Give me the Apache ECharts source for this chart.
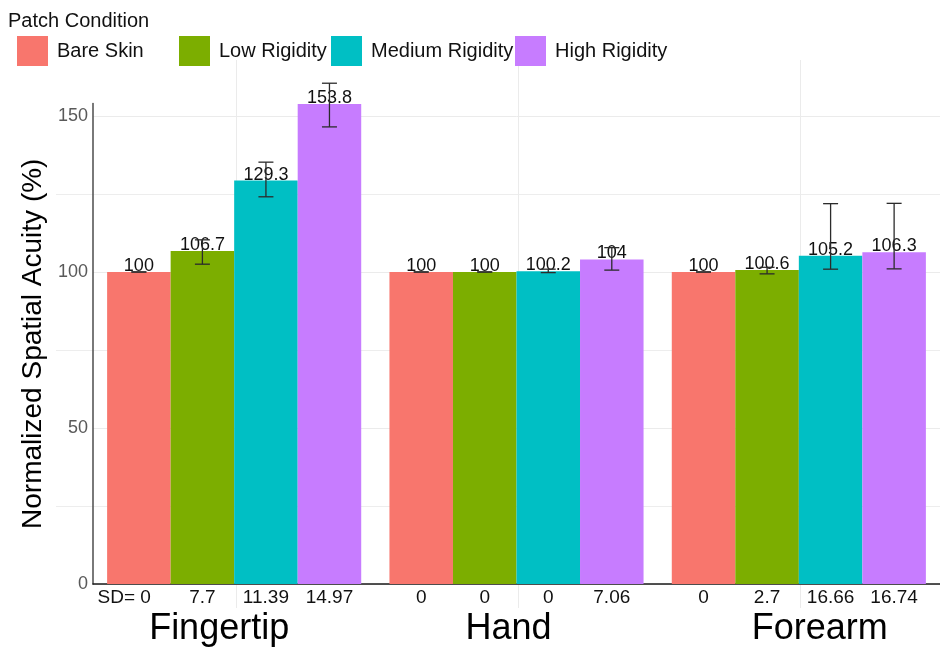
<!DOCTYPE html>
<html>
<head>
<meta charset="utf-8">
<script src="https://cdn.jsdelivr.net/npm/echarts@6/dist/echarts.min.js"></script>
<style>
  html, body { margin: 0; padding: 0; background: #fff; }
  #chart { width: 940px; height: 648px; }
</style>
</head>
<body>
<div id="chart"></div>
<script>
// sites on the x axis
const sites = ["Fingertip", "Hand", "Forearm"];
const conditions = ["Bare Skin", "Low Rigidity", "Medium Rigidity", "High Rigidity"];
const colors = ["#F8766D", "#7CAE00", "#00BFC4", "#C77CFF"];

// normalized acuity (%) per condition, in site order
const bareSkin = [100, 100, 100];
const lowRigidity = [106.7, 100, 100.6];
const mediumRigidity = [129.3, 100.2, 105.2];
const highRigidity = [153.8, 104, 106.3];

// SD printed under each bar
const sdBare = [0, 0, 0];
const sdLow = [7.7, 0, 2.7];
const sdMedium = [11.39, 0, 16.66];
const sdHigh = [14.97, 7.06, 16.74];

// error bar ends as drawn (low, high)
const errBare = [[100, 100], [100, 100], [100, 100]];
const errLow = [[102.5, 110.3], [100, 100], [99.4, 101.5]];
const errMedium = [[124.1, 135.2], [99.8, 100.9], [100.9, 121.9]];
const errHigh = [[146.5, 160.5], [100.6, 107.8], [101.0, 122.0]];

const yTicks = [0, 50, 100, 150];

const values = [bareSkin, lowRigidity, mediumRigidity, highRigidity];
const sds = [sdBare, sdLow, sdMedium, sdHigh];
const errs = [errBare, errLow, errMedium, errHigh];

const FONT = '"Liberation Sans", Arial, Helvetica, sans-serif';

const chart = echarts.init(document.getElementById("chart"));

// error bar + SD text, one item per bar
const errData = [];
errs.forEach(function (list, j) {
  list.forEach(function (e, i) {
    errData.push([i, e[0], e[1], j]);
  });
});

function renderErr(params, api) {
  const i = api.value(0);
  const j = api.value(3);
  const bw = api.size([1, 0])[0];
  const xc = api.coord([i, 0])[0] + (-0.45 + 0.225 * (j + 0.5)) * bw;
  const yLo = api.coord([i, api.value(1)])[1];
  const yHi = api.coord([i, api.value(2)])[1];
  const y0 = api.coord([i, 0])[1];
  const cap = 7.5;
  const ls = { stroke: "#2b2b2b", lineWidth: 1.3 };
  const first = i === 0 && j === 0;
  return {
    type: "group",
    children: [
      { type: "line", shape: { x1: xc, y1: yLo, x2: xc, y2: yHi }, style: ls },
      { type: "line", shape: { x1: xc - cap, y1: yLo, x2: xc + cap, y2: yLo }, style: ls },
      { type: "line", shape: { x1: xc - cap, y1: yHi, x2: xc + cap, y2: yHi }, style: ls },
      {
        type: "text",
        style: {
          text: (first ? "SD= " : "") + sds[j][i],
          x: first ? xc + 12 : xc,
          y: y0 + 14,
          align: first ? "right" : "center",
          verticalAlign: "middle",
          fontSize: 19,
          fontFamily: FONT,
          fill: "#111"
        }
      }
    ]
  };
}

const legendLeft = [12, 174, 326, 510];
// nudges for the site names, as in the original layout
const siteRich = {
  s0: { fontSize: 36, color: "#000", fontFamily: FONT, padding: [0, 30, 0, 0] },
  s1: { fontSize: 36, color: "#000", fontFamily: FONT, padding: [0, 16, 0, 0] },
  s2: { fontSize: 36, color: "#000", fontFamily: FONT, padding: [0, 0, 0, 42] }
};

const option = {
  animation: false,
  textStyle: { fontFamily: FONT },
  title: {
    text: "Patch Condition",
    left: 3,
    top: 6,
    textStyle: { fontSize: 20, fontWeight: "normal", color: "#111", fontFamily: FONT }
  },
  legend: conditions.map(function (name, k) {
    return {
      data: [name],
      left: legendLeft[k],
      top: 31,
      itemWidth: 31,
      itemHeight: 30,
      itemGap: 0,
      icon: "rect",
      textStyle: { fontSize: 20, color: "#111", fontFamily: FONT, padding: [0, 0, 0, 4] }
    };
  }),
  grid: [
    { left: 93, top: 103.5, width: 854, bottom: 64 },
    { left: 236, top: 60, width: 564, height: 548 },
    { left: 56, top: 194, right: 0, height: 312 }
  ],
  xAxis: [
    {
      type: "category",
      gridIndex: 0,
      data: sites,
      axisLine: { lineStyle: { color: "#1a1a1a", width: 1.5 } },
      axisTick: { show: false },
      axisLabel: {
        margin: 27,
        formatter: function (v, idx) { return "{s" + idx + "|" + v + "}"; },
        rich: siteRich
      },
      splitLine: { show: false }
    },
    {
      type: "value",
      gridIndex: 1,
      min: 0,
      max: 2,
      interval: 1,
      axisLine: { show: false },
      axisTick: { show: false },
      axisLabel: { show: false },
      splitLine: { show: true, lineStyle: { color: "#ebebeb", width: 1 } }
    },
    {
      type: "value",
      gridIndex: 2,
      show: false,
      splitLine: { show: false }
    }
  ],
  yAxis: [
    {
      type: "value",
      gridIndex: 0,
      min: 0,
      max: 154,
      interval: 25,
      name: "Normalized Spatial Acuity (%)",
      nameLocation: "middle",
      nameGap: 46,
      nameTextStyle: { fontSize: 28, color: "#000", fontFamily: FONT },
      axisLine: { show: true, lineStyle: { color: "#4d4d4d", width: 1.5 } },
      axisTick: { show: false },
      axisLabel: {
        fontSize: 18,
        color: "#595959",
        margin: 5,
        showMaxLabel: false,
        formatter: function (v) { return yTicks.indexOf(v) >= 0 ? String(v) : ""; }
      },
      splitLine: { show: true, showMaxLine: false, lineStyle: { color: "#ebebeb", width: 1 } }
    },
    {
      type: "value",
      gridIndex: 1,
      min: 0,
      max: 1,
      show: false,
      splitLine: { show: false }
    },
    {
      // minor gridlines at 25 / 75 / 125 reach further left
      type: "value",
      gridIndex: 2,
      min: 0,
      max: 2,
      interval: 1,
      axisLine: { show: false },
      axisTick: { show: false },
      axisLabel: { show: false },
      splitLine: { show: true, lineStyle: { color: "#ededed", width: 1 } }
    }
  ],
  series: conditions.map(function (name, j) {
    return {
      name: name,
      type: "bar",
      xAxisIndex: 0,
      yAxisIndex: 0,
      data: values[j],
      barGap: "0%",
      barCategoryGap: "10%",
      clip: false,
      itemStyle: { color: colors[j] },
      label: {
        show: true,
        position: "top",
        distance: -3,
        fontSize: 18,
        color: "#111",
        fontFamily: FONT
      },
      z: 2
    };
  }).concat([{
    type: "custom",
    xAxisIndex: 0,
    yAxisIndex: 0,
    data: errData,
    renderItem: renderErr,
    clip: false,
    silent: true,
    z: 5
  }])
};

chart.setOption(option);
</script>
</body>
</html>
